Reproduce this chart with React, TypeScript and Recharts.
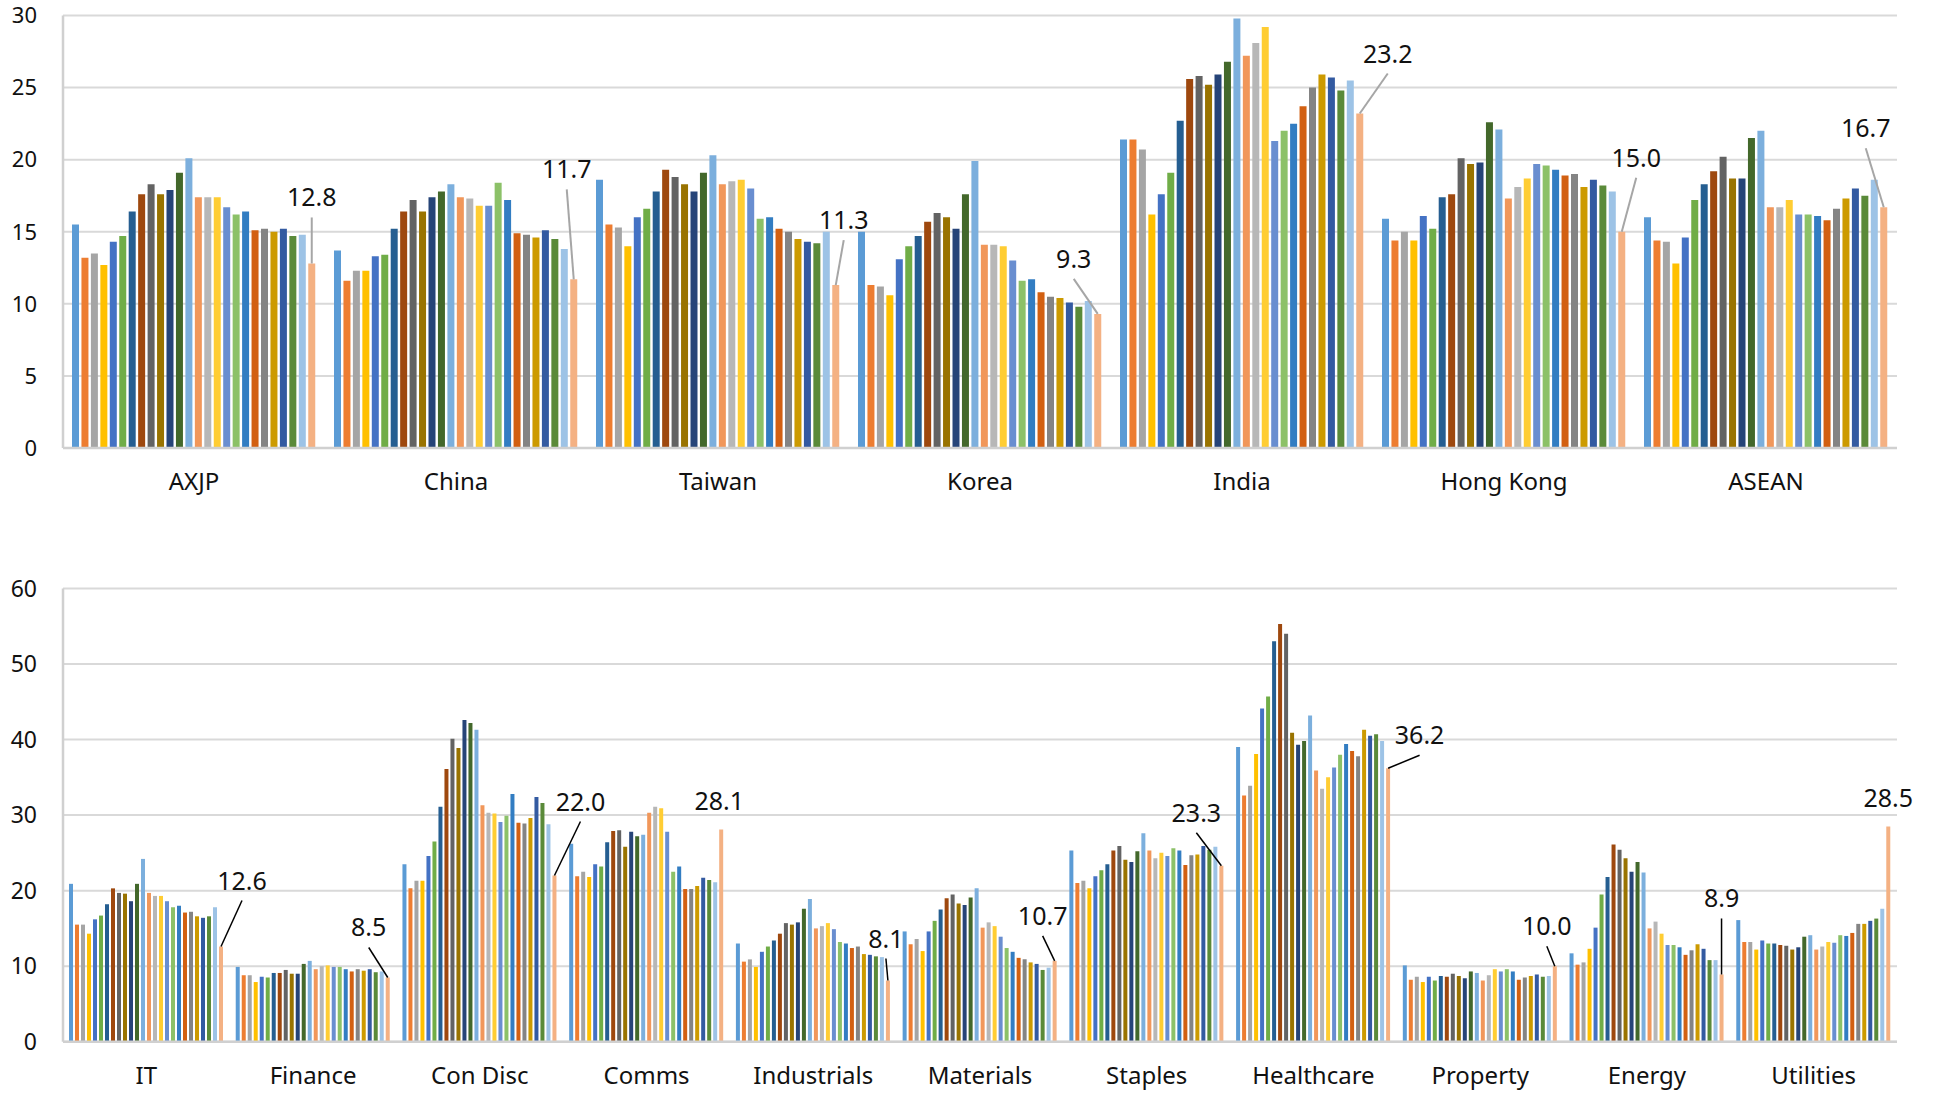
import React from "react";
import { BarChart, Bar, XAxis, YAxis, CartesianGrid } from "recharts";

// ---------- Colours (Excel office palette, 26 series) ----------
const COLORS = [
  "#5B9BD5", "#ED7D31", "#A5A5A5", "#FFC000", "#4472C4", "#70AD47",
  "#255E91", "#9E480E", "#636363", "#997300", "#264478", "#43682B",
  "#7CAFDD", "#F1975A", "#B7B7B7", "#FFCD33", "#698ED0", "#8CC168",
  "#327DC2", "#D26012", "#848484", "#CC9A00", "#335AA1", "#5A8A39",
  "#9DC3E6", "#F4B183",
];

// ---------- Top panel: markets ----------
const TOP_CATEGORIES = ["AXJP", "China", "Taiwan", "Korea", "India", "Hong Kong", "ASEAN"];
const TOP_TICKS = [0, 5, 10, 15, 20, 25, 30];

const AXJP = [15.5, 13.2, 13.5, 12.7, 14.3, 14.7, 16.4, 17.6, 18.3, 17.6, 17.9, 19.1, 20.1, 17.4, 17.4, 17.4, 16.7, 16.2, 16.4, 15.1, 15.2, 15.0, 15.2, 14.7, 14.8, 12.8];
const CHINA = [13.7, 11.6, 12.3, 12.3, 13.3, 13.4, 15.2, 16.4, 17.2, 16.4, 17.4, 17.8, 18.3, 17.4, 17.3, 16.8, 16.8, 18.4, 17.2, 14.9, 14.8, 14.6, 15.1, 14.5, 13.8, 11.7];
const TAIWAN = [18.6, 15.5, 15.3, 14.0, 16.0, 16.6, 17.8, 19.3, 18.8, 18.3, 17.8, 19.1, 20.3, 18.3, 18.5, 18.6, 18.0, 15.9, 16.0, 15.2, 15.0, 14.5, 14.3, 14.2, 15.0, 11.3];
const KOREA = [15.0, 11.3, 11.2, 10.6, 13.1, 14.0, 14.7, 15.7, 16.3, 16.0, 15.2, 17.6, 19.9, 14.1, 14.1, 14.0, 13.0, 11.6, 11.7, 10.8, 10.5, 10.4, 10.1, 9.8, 10.2, 9.3];
const INDIA = [21.4, 21.4, 20.7, 16.2, 17.6, 19.1, 22.7, 25.6, 25.8, 25.2, 25.9, 26.8, 29.8, 27.2, 28.1, 29.2, 21.3, 22.0, 22.5, 23.7, 25.0, 25.9, 25.7, 24.8, 25.5, 23.2];
const HONG_KONG = [15.9, 14.4, 15.0, 14.4, 16.1, 15.2, 17.4, 17.6, 20.1, 19.7, 19.8, 22.6, 22.1, 17.3, 18.1, 18.7, 19.7, 19.6, 19.3, 18.9, 19.0, 18.1, 18.6, 18.2, 17.8, 15.0];
const ASEAN = [16.0, 14.4, 14.3, 12.8, 14.6, 17.2, 18.3, 19.2, 20.2, 18.7, 18.7, 21.5, 22.0, 16.7, 16.7, 17.2, 16.2, 16.2, 16.1, 15.8, 16.6, 17.3, 18.0, 17.5, 18.6, 16.7];
const TOP_VALUES = [AXJP, CHINA, TAIWAN, KOREA, INDIA, HONG_KONG, ASEAN];

// ---------- Bottom panel: sectors ----------
const BOTTOM_CATEGORIES = ["IT", "Finance", "Con Disc", "Comms", "Industrials", "Materials", "Staples", "Healthcare", "Property", "Energy", "Utilities"];
const BOTTOM_TICKS = [0, 10, 20, 30, 40, 50, 60];

const IT = [20.9, 15.5, 15.5, 14.3, 16.2, 16.7, 18.2, 20.3, 19.7, 19.6, 18.6, 20.9, 24.2, 19.7, 19.3, 19.3, 18.6, 17.8, 18.0, 17.1, 17.2, 16.6, 16.4, 16.6, 17.8, 12.6];
const FINANCE = [9.9, 8.8, 8.8, 7.9, 8.6, 8.5, 9.1, 9.1, 9.5, 9.0, 9.0, 10.3, 10.7, 9.6, 10.0, 10.1, 9.9, 9.9, 9.6, 9.3, 9.6, 9.4, 9.6, 9.2, 9.3, 8.5];
const CON_DISC = [23.5, 20.3, 21.3, 21.3, 24.6, 26.5, 31.1, 36.1, 40.1, 38.9, 42.6, 42.2, 41.3, 31.3, 30.3, 30.2, 29.1, 29.9, 32.8, 29.0, 28.9, 29.6, 32.4, 31.6, 28.8, 22.0];
const COMMS = [26.2, 21.9, 22.5, 21.8, 23.5, 23.2, 26.4, 27.9, 28.0, 25.8, 27.8, 27.2, 27.4, 30.3, 31.1, 30.9, 27.8, 22.5, 23.2, 20.2, 20.2, 20.6, 21.7, 21.4, 21.1, 28.1];
const INDUSTRIALS = [13.0, 10.6, 10.9, 9.9, 11.9, 12.6, 13.4, 14.3, 15.7, 15.5, 15.8, 17.6, 18.9, 15.0, 15.3, 15.7, 14.9, 13.2, 13.0, 12.4, 12.6, 11.6, 11.5, 11.3, 11.2, 8.1];
const MATERIALS = [14.6, 12.9, 13.6, 12.0, 14.6, 16.0, 17.5, 19.0, 19.5, 18.3, 18.1, 19.1, 20.3, 15.1, 15.8, 15.3, 13.9, 12.4, 11.9, 11.1, 10.9, 10.5, 10.3, 9.5, 9.8, 10.7];
const STAPLES = [25.3, 21.0, 21.3, 20.3, 21.9, 22.7, 23.5, 25.3, 25.9, 24.1, 23.8, 25.2, 27.6, 25.3, 24.3, 25.0, 24.6, 25.6, 25.3, 23.4, 24.7, 24.8, 25.9, 25.4, 25.8, 23.3];
const HEALTHCARE = [39.0, 32.6, 33.9, 38.1, 44.1, 45.7, 53.0, 55.3, 54.0, 40.9, 39.3, 39.8, 43.2, 35.9, 33.5, 35.0, 36.3, 38.0, 39.4, 38.5, 37.8, 41.3, 40.5, 40.7, 39.8, 36.2];
const PROPERTY = [10.1, 8.2, 8.6, 7.9, 8.6, 8.1, 8.7, 8.6, 9.0, 8.7, 8.4, 9.3, 9.1, 8.1, 8.8, 9.6, 9.3, 9.6, 9.3, 8.2, 8.5, 8.7, 8.9, 8.6, 8.7, 10.0];
const ENERGY = [11.7, 10.2, 10.5, 12.3, 15.1, 19.5, 21.8, 26.1, 25.4, 24.3, 22.5, 23.8, 22.4, 15.0, 15.9, 14.3, 12.8, 12.8, 12.5, 11.5, 12.1, 12.9, 12.3, 10.8, 10.8, 8.9];
const UTILITIES = [16.1, 13.2, 13.2, 12.2, 13.4, 13.0, 13.0, 12.8, 12.7, 12.2, 12.5, 13.9, 14.1, 12.2, 12.6, 13.2, 13.1, 14.1, 14.0, 14.4, 15.6, 15.6, 16.0, 16.3, 17.6, 28.5];
const BOTTOM_VALUES = [IT, FINANCE, CON_DISC, COMMS, INDUSTRIALS, MATERIALS, STAPLES, HEALTHCARE, PROPERTY, ENERGY, UTILITIES];

// ---------- Label placement for the last series (offset from bar top centre) ----------
const TOP_LABEL_OFFSETS = [
  { dx: 0, dy: -66, line: true },
  { dx: -7, dy: -110, line: true },
  { dx: 8, dy: -65, line: true },
  { dx: -24, dy: -55, line: true },
  { dx: 28, dy: -60, line: true },
  { dx: 14.5, dy: -74, line: true },
  { dx: -18, dy: -79, line: true },
];
const BOTTOM_LABEL_OFFSETS = [
  { dx: 21, dy: -66, line: true },
  { dx: -19, dy: -50, line: true },
  { dx: 26, dy: -74, line: true },
  { dx: -2, dy: -28, line: false },
  { dx: -2, dy: -42, line: true },
  { dx: -12, dy: -45, line: true },
  { dx: -25, dy: -53, line: true },
  { dx: 31.5, dy: -33, line: true },
  { dx: -8, dy: -40, line: true },
  { dx: 0, dy: -76, line: true },
  { dx: 0, dy: -28, line: false },
];

const FONT = "'Noto Sans', 'Open Sans', sans-serif";
const N_SERIES = COLORS.length;

function buildRows(categories: string[], values: number[][]) {
  return categories.map((name, i) => {
    const row: Record<string, any> = { name };
    values[i].forEach((v, j) => {
      row["s" + j] = v;
    });
    return row;
  });
}

const TOP_ROWS = buildRows(TOP_CATEGORIES, TOP_VALUES);
const BOTTOM_ROWS = buildRows(BOTTOM_CATEGORIES, BOTTOM_VALUES);

function makeLabel(offsets: { dx: number; dy: number; line: boolean }[], lineColor: string, lineWidth: number) {
  return (props: any) => {
    const { x, y, width, value, index } = props;
    const o = offsets[index];
    if (!o) return null;
    const cx = Number(x) + Number(width) / 2;
    const top = Number(y);
    const lx = cx + o.dx;
    const ly = top + o.dy;
    return (
      <g key={"lbl" + index}>
        {o.line && (
          <line x1={cx} y1={top} x2={lx} y2={ly + 20} stroke={lineColor} strokeWidth={lineWidth} />
        )}
        <text x={lx} y={ly} dy="0.36em" textAnchor="middle" fontFamily={FONT} fontSize={25} fill="#111">
          {Number(value).toFixed(1)}
        </text>
      </g>
    );
  };
}

function Panel(props: {
  rows: any[];
  ticks: number[];
  max: number;
  height: number;
  marginTop: number;
  xAxisHeight: number;
  catGap: number;
  barGap: number;
  labelFn: any;
  tickMarginX: number;
  yFont: number;
}) {
  const { rows, ticks, max, height, marginTop, xAxisHeight, catGap, barGap, labelFn, tickMarginX, yFont } = props;
  return (
    <BarChart
      width={1935}
      height={height}
      data={rows}
      margin={{ top: marginTop, right: 38, bottom: 0, left: 0 }}
      barCategoryGap={catGap}
      barGap={barGap}
    >
      <CartesianGrid vertical={false} stroke="#D9D9D9" strokeWidth={2} />
      <XAxis
        dataKey="name"
        height={xAxisHeight}
        tickLine={false}
        tickSize={0}
        tickMargin={tickMarginX}
        axisLine={{ stroke: "#D0D0D0", strokeWidth: 2.5 }}
        tick={{ fontFamily: FONT, fontSize: 24, fill: "#111" }}
        interval={0}
      />
      <YAxis
        width={63}
        domain={[0, max]}
        ticks={ticks}
        tickLine={false}
        tickSize={0}
        tickMargin={26}
        axisLine={{ stroke: "#D0D0D0", strokeWidth: 2.5 }}
        tick={{ fontFamily: FONT, fontSize: yFont, fill: "#111" }}
        allowDataOverflow
      />
      {COLORS.map((c, j) => (
        <Bar
          key={j}
          dataKey={"s" + j}
          fill={c}
          isAnimationActive={false}
          label={j === N_SERIES - 1 ? labelFn : undefined}
        />
      ))}
    </BarChart>
  );
}

export default function App() {
  return (
    <div style={{ position: "absolute", left: 0, top: 0, width: 1935, height: 1093, background: "#fff" }}>
      <div style={{ position: "absolute", left: 0, top: 0 }}>
        <Panel
          rows={TOP_ROWS}
          ticks={TOP_TICKS}
          max={30}
          height={500}
          marginTop={15.5}
          xAxisHeight={52}
          catGap={9}
          barGap={2.45}
          labelFn={makeLabel(TOP_LABEL_OFFSETS, "#A6A6A6", 2)}
          tickMarginX={25}
          yFont={22}
        />
      </div>
      <div style={{ position: "absolute", left: 0, top: 540 }}>
        <Panel
          rows={BOTTOM_ROWS}
          ticks={BOTTOM_TICKS}
          max={60}
          height={553}
          marginTop={48.5}
          xAxisHeight={51.3}
          catGap={6}
          barGap={2}
          labelFn={makeLabel(BOTTOM_LABEL_OFFSETS, "#000", 1.5)}
          tickMarginX={25}
          yFont={23}
        />
      </div>
    </div>
  );
}
